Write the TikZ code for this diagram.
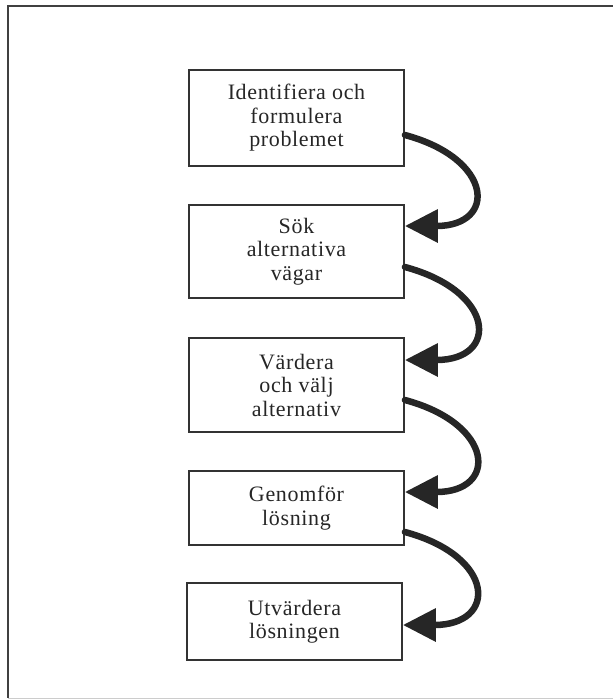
\documentclass[tikz,border=0pt]{standalone}
\usepackage{fontspec}
\setmainfont{Liberation Serif}[LetterSpace=3]
\usetikzlibrary{arrows.meta}
\begin{document}
\begin{tikzpicture}[x=1pt,y=-1pt,
  stepbox/.style={draw=black!80, line width=1.8pt, inner sep=0pt,
    minimum width=215pt, align=center, text=black!85,
    font=\fontsize{22}{23.5}\selectfont},
  flow/.style={draw=black!85, line width=6.5pt, line cap=round,
    -{Triangle[length=33pt,width=32pt]}}
]
% page and open frame
\path[use as bounding box] (0,0) rectangle (613,699);
\draw[black!75, line width=1.2pt] (613,6) -- (8,6) -- (8,698);
\draw[black!20, line width=1pt] (8,698) -- (613,698);

% process steps
\node[stepbox, minimum height=96pt] (b1) at (296.5,118)
  {Identifiera och\\formulera\\problemet};
\node[stepbox, minimum height=93pt] (b2) at (296.5,251.5)
  {Sök\\alternativa\\vägar};
\node[stepbox, minimum height=94pt] (b3) at (296.5,385)
  {Värdera\\och välj\\alternativ};
\node[stepbox, minimum height=74pt] (b4) at (296.5,508)
  {Genomför\\lösning};
\node[stepbox, minimum height=77pt] (b5) at (294.5,621.5)
  {Utvärdera\\lösningen};

% curved arrows between consecutive steps
\draw[flow] ([yshift=-17pt]b1.east) to[out=-15,in=0,looseness=2.6] ([yshift=25.5pt]b2.east);
\draw[flow] ([yshift=-15.5pt]b2.east) to[out=-15,in=0,looseness=2.6] ([yshift=25pt]b3.east);
\draw[flow] ([yshift=-15pt]b3.east) to[out=-15,in=0,looseness=2.6] ([yshift=16pt]b4.east);
\draw[flow] ([yshift=-24pt]b4.east) to[out=-15,in=0,looseness=2.6] ([yshift=-3.5pt]b5.east);
\end{tikzpicture}
\end{document}
